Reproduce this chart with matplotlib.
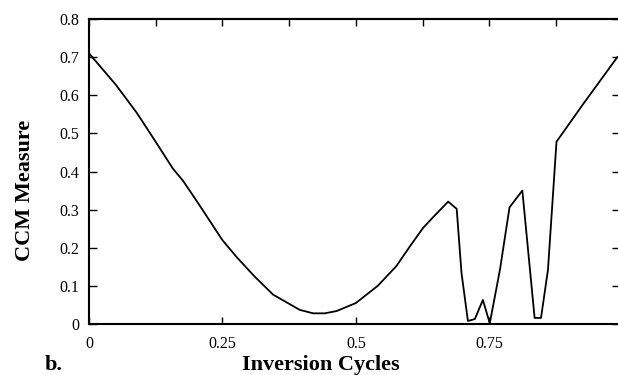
import matplotlib.pyplot as plt
import numpy as np

# data
cycles = [0.000, 0.050, 0.073, 0.090, 0.124, 0.157, 0.176, 0.204, 0.250, 0.277,
          0.310, 0.345, 0.395, 0.420, 0.442, 0.464, 0.500, 0.541, 0.576, 0.601,
          0.626, 0.644, 0.673, 0.689, 0.698, 0.710, 0.723, 0.738, 0.751, 0.770,
          0.788, 0.812, 0.835, 0.847, 0.860, 0.876, 0.925, 0.990]
ccm = [0.710, 0.628, 0.585, 0.553, 0.480, 0.408, 0.376, 0.318, 0.220, 0.175,
       0.125, 0.077, 0.037, 0.028, 0.028, 0.034, 0.055, 0.100, 0.152, 0.203,
       0.252, 0.279, 0.321, 0.302, 0.134, 0.008, 0.013, 0.063, 0.002, 0.142,
       0.306, 0.350, 0.016, 0.016, 0.142, 0.478, 0.575, 0.700]

x_ticks = [0, 0.25, 0.5, 0.75]
x_ticklabels = ["0", "0.25", "0.5", "0.75"]
y_ticks = [0, 0.1, 0.2, 0.3, 0.4, 0.5, 0.6, 0.7, 0.8]
y_ticklabels = ["0", "0.1", "0.2", "0.3", "0.4", "0.5", "0.6", "0.7", "0.8"]

plt.rcParams['font.family'] = ['Liberation Serif', 'DejaVu Serif']

fig = plt.figure(figsize=(6.18, 3.75), dpi=100)
ax = fig.add_axes([89 / 618, 1 - 324 / 375, 531 / 618, 305 / 375])

ax.plot(cycles, ccm, color='black', linewidth=1.3)

ax.set_xlim(0, 0.995)
ax.set_ylim(0, 0.8)

ax.set_xticks(x_ticks)
ax.set_xticklabels(x_ticklabels, fontsize=11.5)
ax.set_yticks(y_ticks)
ax.set_yticklabels(y_ticklabels, fontsize=11.5)
ax.tick_params(axis='x', direction='in', length=5, width=1, pad=9, top=False)
ax.tick_params(axis='y', direction='in', length=6, width=1, pad=7, right=True)

# top ticks every 0.125
top = ax.secondary_xaxis('top')
top.set_xticks(np.arange(0, 1.0, 0.125))
top.set_xticklabels([])
top.tick_params(direction='in', length=5, width=1)

for s in ax.spines.values():
    s.set_linewidth(1.5)
top.spines['top'].set_linewidth(1.5)

fig.text(25 / 618, 1 - 190 / 375, "CCM Measure", rotation=90, fontsize=16,
         fontweight='bold', ha='center', va='center')
fig.text(321 / 618, 1 - 365 / 375, "Inversion Cycles", fontsize=16,
         fontweight='bold', ha='center', va='center')
fig.text(45 / 618, 1 - 365 / 375, "b.", fontsize=16,
         fontweight='bold', ha='left', va='center')

fig.savefig("out.png", dpi=100)
